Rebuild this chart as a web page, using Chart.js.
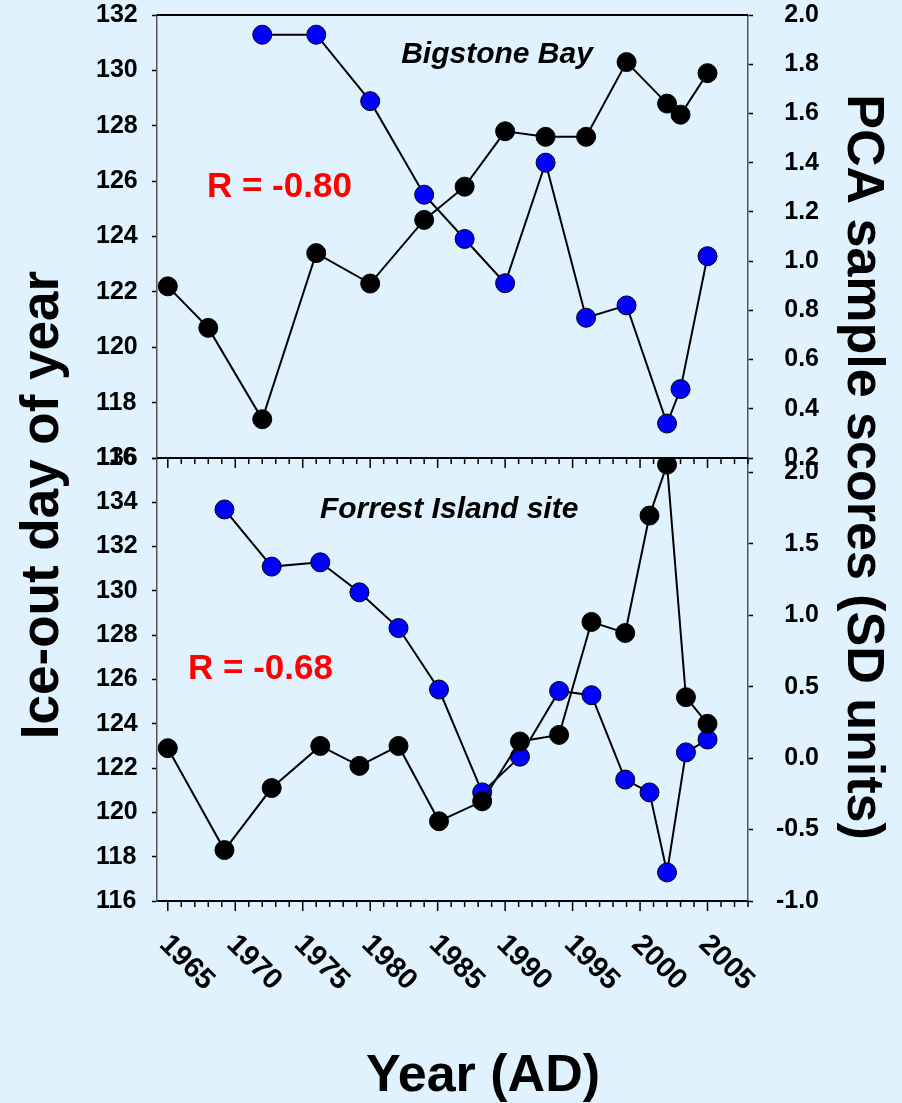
<!DOCTYPE html>
<html>
<head>
<meta charset="utf-8">
<script src="https://cdn.jsdelivr.net/npm/chart.js@4.4.1/dist/chart.umd.min.js"></script>
<style>
  html, body { margin: 0; padding: 0; background: #e0f2fe; }
  #wrap { width: 902px; height: 1103px; }
</style>
</head>
<body>
<div id="wrap"><canvas id="IceChart" width="902" height="1103"></canvas></div>
<script>
const yearTicks = [1965, 1970, 1975, 1980, 1985, 1990, 1995, 2000, 2005];
const topIceTicks = [116, 118, 120, 122, 124, 126, 128, 130, 132];
const topPcaTicks = [0.2, 0.4, 0.6, 0.8, 1.0, 1.2, 1.4, 1.6, 1.8, 2.0];
const botIceTicks = [116, 118, 120, 122, 124, 126, 128, 130, 132, 134, 136];
const botPcaTicks = [-1.0, -0.5, 0.0, 0.5, 1.0, 1.5, 2.0];

// Bigstone Bay (top panel)
const bigstoneIceYears = [1965, 1968, 1972, 1976, 1980, 1984, 1987, 1990, 1993, 1996, 1999, 2002, 2003, 2005];
const bigstoneIce = [122.2, 120.7, 117.4, 123.4, 122.3, 124.6, 125.8, 127.8, 127.6, 127.6, 130.3, 128.8, 128.4, 129.9];
const bigstonePcaYears = [1972, 1976, 1980, 1984, 1987, 1990, 1993, 1996, 1999, 2002, 2003, 2005];
const bigstonePca = [1.92, 1.92, 1.65, 1.27, 1.09, 0.91, 1.40, 0.77, 0.82, 0.34, 0.48, 1.02];

// Forrest Island site (bottom panel)
const forrestIceYears = [1965.0, 1969.2, 1972.7, 1976.3, 1979.2, 1982.1, 1985.1, 1988.3, 1991.1, 1994.0, 1996.4, 1998.9, 2000.7, 2002.0, 2003.4, 2005.0];
const forrestIce = [122.9, 118.3, 121.1, 123.0, 122.1, 123.0, 119.6, 120.5, 123.2, 123.5, 128.6, 128.1, 133.4, 135.7, 125.2, 124.0];
const forrestPcaYears = [1969.2, 1972.7, 1976.3, 1979.2, 1982.1, 1985.1, 1988.3, 1991.1, 1994.0, 1996.4, 1998.9, 2000.7, 2002.0, 2003.4, 2005.0];
const forrestPca = [1.74, 1.34, 1.37, 1.16, 0.91, 0.48, -0.24, 0.01, 0.47, 0.44, -0.15, -0.24, -0.80, 0.04, 0.13];

const FONT = '"Liberation Sans", Arial, Helvetica, sans-serif';

function toPoints(xs, ys) {
  return xs.map((x, i) => ({ x: x, y: ys[i] }));
}

function fixedTicks(values) {
  return scale => { scale.ticks = values.map(v => ({ value: v })); };
}

function series(xs, ys, axis, fill) {
  return {
    data: toPoints(xs, ys),
    xAxisID: "x",
    yAxisID: axis,
    borderColor: "#000",
    borderWidth: 2,
    pointRadius: 9.5,
    pointHoverRadius: 9.5,
    pointBackgroundColor: fill,
    pointBorderColor: "#000",
    pointBorderWidth: 1,
    tension: 0,
  };
}

// labels are placed from the outer edge of the fixed-width axis box ('far'),
// so tick padding can stay 0 and doesn't push the chart area down
function yAxis(pos, min, max, ticks, weight, width, isPca) {
  return {
    type: "linear",
    position: pos,
    stack: pos,
    stackWeight: 1,
    weight: weight,
    min: min,
    max: max,
    afterBuildTicks: fixedTicks(ticks),
    afterFit: s => { s.width = width; },
    grid: { drawOnChartArea: false, drawTicks: true, tickLength: 5, color: "#000", tickWidth: 1.5 },
    border: { display: true, color: "#555", width: 1.5 },
    ticks: {
      color: "#000",
      autoSkip: false,
      padding: 0,
      crossAlign: "far",
      font: { family: FONT, size: 25, weight: "bold" },
      callback: v => isPca ? Number(v).toFixed(1) : v,
    },
  };
}

const decorations = {
  id: "decorations",
  afterDraw(chart) {
    const ctx = chart.ctx;
    const area = chart.chartArea;
    const xs = chart.scales.x;
    const mid = chart.scales.yTopL.bottom;

    ctx.save();
    ctx.strokeStyle = "#000";
    ctx.lineWidth = 2;
    ctx.beginPath();
    ctx.moveTo(area.left, area.top);
    ctx.lineTo(area.right, area.top);
    ctx.moveTo(area.left, mid);
    ctx.lineTo(area.right, mid);
    ctx.stroke();

    // year ticks on the middle line and the bottom axis
    ctx.lineWidth = 1.5;
    ctx.beginPath();
    for (let yr = Math.ceil(xs.min); yr <= xs.max; yr++) {
      const px = xs.getPixelForValue(yr);
      const len = yearTicks.includes(yr) ? 10 : 6;
      ctx.moveTo(px, area.bottom);
      ctx.lineTo(px, area.bottom + len);
      ctx.moveTo(px, mid);
      ctx.lineTo(px, mid + len);
    }
    ctx.stroke();

    // rotated year labels
    ctx.fillStyle = "#000";
    ctx.font = "bold 29px " + FONT;
    ctx.textAlign = "left";
    ctx.textBaseline = "middle";
    yearTicks.forEach(yr => {
      const px = xs.getPixelForValue(yr);
      ctx.save();
      ctx.translate(px - 4, area.bottom + 39);
      ctx.rotate(Math.PI / 4);
      ctx.fillText(String(yr), 0, 0);
      ctx.restore();
    });

    // axis titles
    ctx.font = "bold 53px " + FONT;
    ctx.textAlign = "center";
    ctx.save();
    ctx.translate(43, 505);
    ctx.rotate(-Math.PI / 2);
    ctx.fillText("Ice-out day of year", 0, 0);
    ctx.restore();
    ctx.font = "bold 52px " + FONT;
    ctx.save();
    ctx.translate(862, 467);
    ctx.rotate(Math.PI / 2);
    ctx.fillText("PCA sample scores (SD units)", 0, 0);
    ctx.restore();
    ctx.fillText("Year (AD)", 483, 1077);

    // panel labels
    const yTL = chart.scales.yTopL;
    const yBL = chart.scales.y;
    ctx.textBaseline = "alphabetic";
    ctx.font = "italic bold 30px " + FONT;
    ctx.fillText("Bigstone Bay", xs.getPixelForValue(1989.4), yTL.getPixelForValue(130.27));
    ctx.fillText("Forrest Island site", xs.getPixelForValue(1985.85), yBL.getPixelForValue(133.29));

    ctx.fillStyle = "#ff0000";
    ctx.font = "bold 35px " + FONT;
    ctx.textAlign = "left";
    ctx.fillText("R = -0.80", xs.getPixelForValue(1967.9), yTL.getPixelForValue(125.43));
    ctx.fillText("R = -0.68", xs.getPixelForValue(1966.5), yBL.getPixelForValue(126.02));
    ctx.restore();
  },
};

const iceCTX = document.getElementById("IceChart").getContext("2d");

const iceChart = new Chart(iceCTX, {
  type: "line",
  data: {
    datasets: [
      series(bigstoneIceYears, bigstoneIce, "yTopL", "#000"),
      series(forrestIceYears, forrestIce, "y", "#000"),
      series(bigstonePcaYears, bigstonePca, "yTopR", "#0000ff"),
      series(forrestPcaYears, forrestPca, "yBotR", "#0000ff"),
    ],
  },
  options: {
    responsive: false,
    animation: false,
    devicePixelRatio: 1,
    layout: { padding: { left: 96, right: 83, top: 15, bottom: 0 } },
    plugins: {
      legend: { display: false },
      tooltip: { enabled: false },
    },
    scales: {
      x: {
        type: "linear",
        position: "bottom",
        min: 1964.2,
        max: 2008,
        afterFit: s => { s.height = 202; },
        grid: { display: false, drawTicks: false },
        border: { display: true, color: "#000", width: 2 },
        ticks: { display: false },
      },
      yTopL: yAxis("left", 116, 132, topIceTicks, 2, 61, false),
      y: yAxis("left", 116, 136, botIceTicks, 1, 61, false),
      yTopR: yAxis("right", 0.2, 2.0, topPcaTicks, 1, 71, true),
      yBotR: yAxis("right", -1.0, 2.1, botPcaTicks, 2, 71, true),
    },
  },
  plugins: [decorations],
});
</script>
</body>
</html>
